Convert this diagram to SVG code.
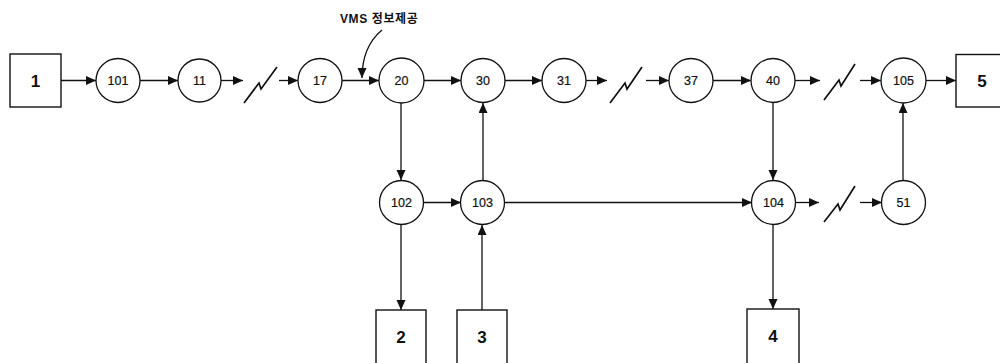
<svg xmlns="http://www.w3.org/2000/svg" width="1000" height="363" viewBox="0 0 1000 363">
  <style>
    .box { fill: #fff; stroke: #111; stroke-width: 1.4; }
    .node { fill: #fff; stroke: #111; stroke-width: 1.3; }
    .num { font-family: "Liberation Sans", Arial, sans-serif; font-size: 12.5px; fill: #111; stroke: #111; stroke-width: 0.2; text-anchor: middle; dominant-baseline: central; }
    .big { font-family: "Liberation Sans", Arial, sans-serif; font-size: 17px; font-weight: bold; fill: #111; text-anchor: middle; dominant-baseline: central; }
    .edge { fill: none; stroke: #111; stroke-width: 1.3; }
    .arr { marker-end: url(#head); }
    .bolt { fill: none; stroke: #111; stroke-width: 1.7; stroke-linejoin: miter; }
    .label { font-family: "Liberation Sans", "Noto Sans CJK KR", sans-serif; font-size: 12px; font-weight: bold; letter-spacing: 0.6px; fill: #111; }
  </style>
  <defs>
    <marker id="head" markerUnits="userSpaceOnUse" markerWidth="11" markerHeight="10" refX="10" refY="4.5" orient="auto">
      <path d="M0,0 L10,4.5 L0,9 z" fill="#111"/>
    </marker>
  </defs>

  <!-- connectors -->
  <g id="connectors">
    <!-- upper chain -->
    <line class="edge arr" x1="61" y1="80.5" x2="96" y2="80.5"/>
    <line class="edge arr" x1="140" y1="80.5" x2="178" y2="80.5"/>
    <line class="edge arr" x1="221" y1="80.5" x2="243" y2="80.5"/>
    <path class="bolt" d="M244,103 L259,83 L261,89 L277,67"/>
    <line class="edge arr" x1="279" y1="80.5" x2="298" y2="80.5"/>
    <line class="edge arr" x1="342" y1="80.5" x2="379" y2="80.5"/>
    <line class="edge arr" x1="424" y1="80.5" x2="461" y2="80.5"/>
    <line class="edge arr" x1="505" y1="80.5" x2="542" y2="80.5"/>
    <line class="edge arr" x1="586" y1="80.5" x2="607" y2="80.5"/>
    <path class="bolt" d="M610,103 L625,83 L627,89 L642,67"/>
    <line class="edge arr" x1="646" y1="80.5" x2="669" y2="80.5"/>
    <line class="edge arr" x1="713" y1="80.5" x2="751" y2="80.5"/>
    <line class="edge arr" x1="795" y1="80.5" x2="820" y2="80.5"/>
    <path class="bolt" d="M824,100 L839,80 L841,86 L855,64"/>
    <line class="edge arr" x1="860" y1="80.5" x2="881" y2="80.5"/>
    <line class="edge arr" x1="926" y1="80.5" x2="956" y2="80.5"/>

    <!-- VMS pointer -->
    <path class="edge arr" d="M382,30 C370,40 362,55 362,78"/>

    <!-- verticals between rows -->
    <line class="edge arr" x1="401" y1="103" x2="401" y2="180"/>
    <line class="edge arr" x1="483" y1="180" x2="483" y2="103"/>
    <line class="edge arr" x1="773" y1="103" x2="773" y2="180"/>
    <line class="edge arr" x1="903" y1="180" x2="903" y2="103"/>

    <!-- lower chain -->
    <line class="edge arr" x1="423" y1="202.5" x2="461" y2="202.5"/>
    <line class="edge arr" x1="504" y1="202.5" x2="752" y2="202.5"/>
    <line class="edge arr" x1="795" y1="202.5" x2="819" y2="202.5"/>
    <path class="bolt" d="M824,222 L838,204 L840,210 L855,186"/>
    <line class="edge arr" x1="860" y1="202.5" x2="882" y2="202.5"/>

    <!-- to / from the bottom boxes -->
    <line class="edge arr" x1="401" y1="225" x2="401" y2="310"/>
    <line class="edge arr" x1="482" y1="310" x2="482" y2="225"/>
    <line class="edge arr" x1="773" y1="224" x2="773" y2="309"/>
  </g>

  <text class="label" x="340" y="23">VMS 정보제공</text>

  <!-- terminal boxes -->
  <g id="box1"><rect class="box" x="10" y="54" width="51" height="53"/><text class="big" x="35.5" y="81">1</text></g>
  <g id="box5"><rect class="box" x="956" y="54.5" width="52" height="52.5"/><text class="big" x="982" y="81">5</text></g>
  <g id="box2"><rect class="box" x="376" y="310" width="50" height="60"/><text class="big" x="401" y="337">2</text></g>
  <g id="box3"><rect class="box" x="457" y="310" width="50" height="60"/><text class="big" x="482" y="337">3</text></g>
  <g id="box4"><rect class="box" x="747" y="309" width="52" height="60"/><text class="big" x="773" y="336">4</text></g>

  <!-- upper row nodes -->
  <g id="n101"><circle class="node" cx="118" cy="80.5" r="22"/><text class="num" x="118" y="80.5">101</text></g>
  <g id="n11"><circle class="node" cx="199.5" cy="80.5" r="21.5"/><text class="num" x="199.5" y="80.5">11</text></g>
  <g id="n17"><circle class="node" cx="320" cy="80.5" r="22"/><text class="num" x="320" y="80.5">17</text></g>
  <g id="n20"><circle class="node" cx="401.5" cy="80.5" r="22.5"/><text class="num" x="401.5" y="80.5">20</text></g>
  <g id="n30"><circle class="node" cx="483" cy="80.5" r="22"/><text class="num" x="483" y="80.5">30</text></g>
  <g id="n31"><circle class="node" cx="564" cy="80.5" r="22"/><text class="num" x="564" y="80.5">31</text></g>
  <g id="n37"><circle class="node" cx="691" cy="80.5" r="22"/><text class="num" x="691" y="80.5">37</text></g>
  <g id="n40"><circle class="node" cx="773" cy="80.5" r="22"/><text class="num" x="773" y="80.5">40</text></g>
  <g id="n105"><circle class="node" cx="903.5" cy="80.5" r="22.5"/><text class="num" x="903.5" y="80.5">105</text></g>

  <!-- lower row nodes -->
  <g id="n102"><circle class="node" cx="401.5" cy="202.5" r="22"/><text class="num" x="401.5" y="202.5">102</text></g>
  <g id="n103"><circle class="node" cx="482.5" cy="202.5" r="22"/><text class="num" x="482.5" y="202.5">103</text></g>
  <g id="n104"><circle class="node" cx="773.5" cy="202.5" r="22"/><text class="num" x="773.5" y="202.5">104</text></g>
  <g id="n51"><circle class="node" cx="903.5" cy="202.5" r="22"/><text class="num" x="903.5" y="202.5">51</text></g>
</svg>
